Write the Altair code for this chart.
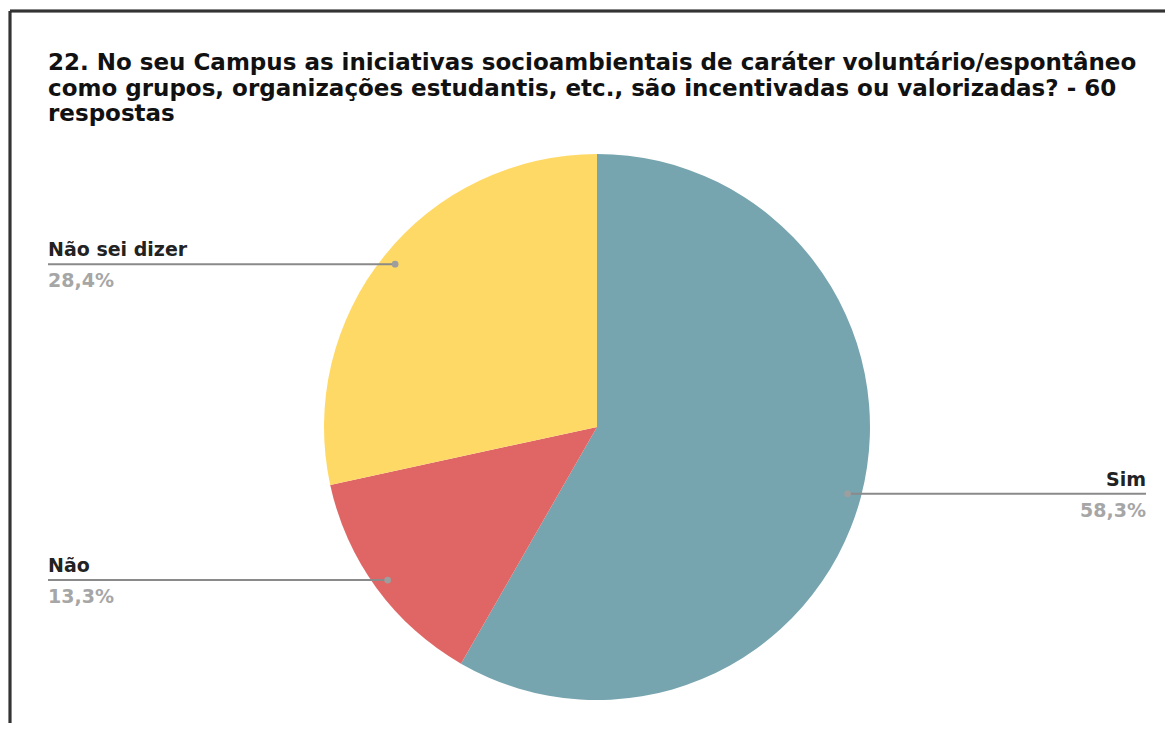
import altair as alt
import numpy as np
import pandas as pd

categories = ["Sim", "Não", "Não sei dizer"]
percentages = [58.3, 13.3, 28.4]
colors = ["#76A5AF", "#E06666", "#FFD966"]
title_lines = [
    "22. No seu Campus as iniciativas socioambientais de caráter voluntário/espontâneo",
    "como grupos, organizações estudantis, etc., são incentivadas ou valorizadas? - 60",
    "respostas",
]

W, H = 1157, 715
CX, CY, R = 589, 419, 273
LEFT_X, RIGHT_X = 40, 1138
FONT = "DejaVu Sans"

df = pd.DataFrame({"category": categories, "pct": percentages, "order": list(range(len(categories)))})
total = df["pct"].sum()
mid = (df["pct"].cumsum() - df["pct"] / 2) / total * 2 * np.pi
df["dot_x"] = CX + 0.95 * R * np.sin(mid)
df["dot_y"] = CY - 0.95 * R * np.cos(mid)
df["side"] = np.where(np.sin(mid) > 0, "right", "left")
df["text_x"] = np.where(df["side"] == "right", RIGHT_X, LEFT_X)
df["x1"] = np.minimum(df["dot_x"], df["text_x"])
df["x2"] = np.maximum(df["dot_x"], df["text_x"])
df["name_y"] = df["dot_y"] - 8
df["pct_y"] = df["dot_y"] + 23
df["pct_label"] = df["pct"].map(lambda v: f"{v:.1f}".replace(".", ",") + "%")

title_df = pd.DataFrame({"line": title_lines, "ty": [62, 88, 113]})

base = alt.Chart(df)

pie = base.mark_arc(outerRadius=R).encode(
    theta=alt.Theta("pct:Q", stack=True),
    color=alt.Color("category:N", scale=alt.Scale(domain=categories, range=colors), legend=None),
    order=alt.Order("order:Q"),
    x=alt.value(CX),
    y=alt.value(CY),
)

leaders = base.mark_rule(color="#8A8A8A", strokeWidth=2).encode(
    x=alt.X("x1:Q", scale=None, axis=None),
    x2="x2:Q",
    y=alt.Y("dot_y:Q", scale=None, axis=None),
)

dots = base.mark_circle(size=45, color="#9E9E9E", opacity=1).encode(
    x=alt.X("dot_x:Q", scale=None, axis=None),
    y=alt.Y("dot_y:Q", scale=None, axis=None),
)

def labels(side, align):
    sub = base.transform_filter(alt.datum.side == side)
    names = sub.mark_text(align=align, baseline="alphabetic", font=FONT, fontSize=19,
                          fontWeight="bold", color="#222222").encode(
        x=alt.X("text_x:Q", scale=None, axis=None),
        y=alt.Y("name_y:Q", scale=None, axis=None),
        text="category:N",
    )
    pcts = sub.mark_text(align=align, baseline="alphabetic", font=FONT, fontSize=19,
                         fontWeight="bold", color="#A6A6A6").encode(
        x=alt.X("text_x:Q", scale=None, axis=None),
        y=alt.Y("pct_y:Q", scale=None, axis=None),
        text="pct_label:N",
    )
    return names + pcts

title = alt.Chart(title_df).mark_text(align="left", baseline="alphabetic", font=FONT,
                                      fontSize=23, fontWeight="bold", color="#111111").encode(
    x=alt.value(LEFT_X),
    y=alt.Y("ty:Q", scale=None, axis=None),
    text="line:N",
)

border_top = alt.Chart(df).mark_rule(color="#333333", strokeWidth=2.5).encode(
    x=alt.value(2), x2=alt.value(W), y=alt.value(3)
)
border_left = alt.Chart(df).mark_rule(color="#333333", strokeWidth=2.5).encode(
    x=alt.value(2), y=alt.value(3), y2=alt.value(H)
)

chart = alt.layer(
    border_top, border_left, pie, leaders, dots,
    labels("left", "left"), labels("right", "right"), title,
).properties(
    width=W, height=H, padding=0, autosize=alt.AutoSizeParams(type="none"), background="white"
).configure_view(stroke=None)

chart.save("out.html", embed_options={"renderer": "svg", "actions": False})
